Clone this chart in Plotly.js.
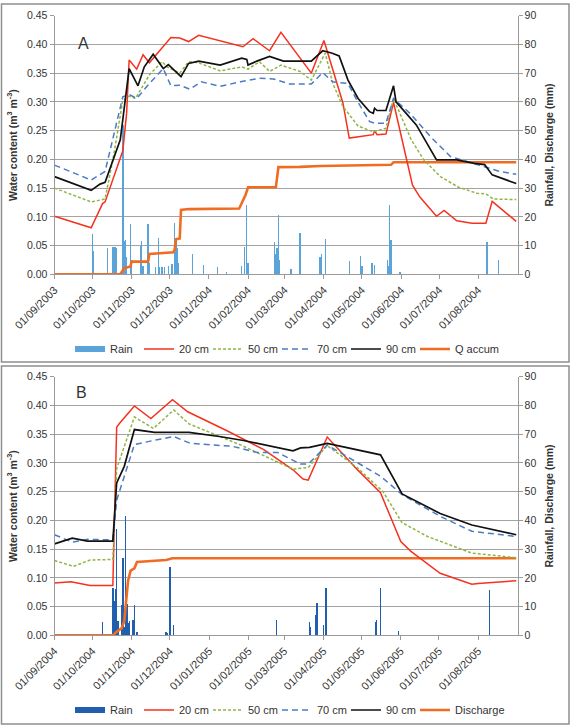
<!DOCTYPE html>
<html>
<head>
<meta charset="utf-8">
<script src="https://cdn.plot.ly/plotly-3.0.1.min.js"></script>
<style>
  html, body { margin: 0; padding: 0; background: #ffffff; }
  #chart { width: 582px; height: 727px; }
</style>
</head>
<body>
<div id="chart"></div>
<script>
// ---------- Panel A: September 2003 – August 2004 ----------
const monthsA = ['2003-09-01','2003-10-01','2003-11-01','2003-12-01','2004-01-01','2004-02-01',
                 '2004-03-01','2004-04-01','2004-05-01','2004-06-01','2004-07-01','2004-08-01'];

const a20Dates = ['2003-09-01','2003-09-30','2003-10-09','2003-10-11','2003-10-25','2003-10-28','2003-10-30',
  '2003-11-05','2003-11-10','2003-11-15','2003-12-02','2003-12-09','2003-12-16','2003-12-24','2004-01-28',
  '2004-02-05','2004-02-18','2004-02-27','2004-03-22','2004-04-01','2004-04-16','2004-04-21','2004-05-10',
  '2004-05-11','2004-05-13','2004-05-20','2004-05-26','2004-06-03','2004-06-10','2004-06-16','2004-06-29',
  '2004-07-05','2004-07-15','2004-07-27','2004-08-07','2004-08-12','2004-08-31'];
const a20Vals = [0.101,0.081,0.123,0.126,0.215,0.28,0.373,0.357,0.382,0.368,0.412,0.411,0.405,0.416,0.396,
  0.41,0.389,0.421,0.35,0.407,0.298,0.237,0.243,0.25,0.243,0.244,0.299,0.222,0.155,0.134,0.101,
  0.111,0.093,0.089,0.089,0.127,0.092];

const a50Dates = ['2003-09-01','2003-09-30','2003-10-11','2003-10-18','2003-10-25','2003-10-30','2003-11-04',
  '2003-11-15','2003-11-25','2003-11-29','2003-12-09','2003-12-16','2003-12-24','2004-01-10','2004-01-27',
  '2004-02-01','2004-02-10','2004-02-18','2004-02-27','2004-03-13','2004-03-22','2004-04-02','2004-04-08',
  '2004-04-16','2004-04-28','2004-05-10','2004-05-20','2004-05-26','2004-06-09','2004-06-19','2004-07-02',
  '2004-07-16','2004-07-31','2004-08-07','2004-08-13','2004-08-31'];
const a50Vals = [0.150,0.126,0.131,0.21,0.303,0.310,0.306,0.347,0.370,0.361,0.350,0.370,0.368,0.354,0.361,
  0.357,0.370,0.353,0.364,0.353,0.338,0.385,0.332,0.292,0.258,0.248,0.254,0.306,0.234,0.199,0.170,
  0.152,0.141,0.140,0.131,0.130];

const a70Dates = ['2003-09-01','2003-09-30','2003-10-11','2003-10-25','2003-10-30','2003-11-05','2003-11-15',
  '2003-11-26','2003-12-02','2003-12-09','2003-12-17','2003-12-26','2004-01-10','2004-01-26','2004-02-10',
  '2004-02-21','2004-03-05','2004-03-22','2004-03-31','2004-04-08','2004-04-20','2004-04-27','2004-05-07',
  '2004-05-11','2004-05-20','2004-05-26','2004-06-08','2004-06-24','2004-07-10','2004-07-28','2004-08-08',
  '2004-08-18','2004-08-31'];
const a70Vals = [0.190,0.164,0.179,0.309,0.313,0.306,0.332,0.358,0.328,0.329,0.322,0.335,0.327,0.335,0.341,
  0.340,0.331,0.331,0.351,0.335,0.332,0.303,0.266,0.263,0.263,0.306,0.280,0.240,0.205,0.193,0.187,
  0.179,0.174];

const a90Dates = ['2003-09-01','2003-09-30','2003-10-07','2003-10-11','2003-10-23','2003-10-30','2003-11-06',
  '2003-11-11','2003-11-18','2003-11-26','2003-11-30','2003-12-10','2003-12-16','2003-12-24','2004-01-10',
  '2004-01-27','2004-01-31','2004-02-01','2004-02-08','2004-02-18','2004-02-29','2004-03-22','2004-03-31',
  '2004-04-07','2004-04-13','2004-04-20','2004-04-28','2004-05-07','2004-05-10','2004-05-11','2004-05-13',
  '2004-05-20','2004-05-26','2004-05-28','2004-06-05','2004-06-13','2004-06-29','2004-07-15','2004-07-29',
  '2004-08-06','2004-08-12','2004-08-31'];
const a90Vals = [0.170,0.146,0.157,0.160,0.234,0.358,0.328,0.361,0.383,0.358,0.365,0.344,0.367,0.371,0.364,
  0.376,0.374,0.364,0.371,0.379,0.371,0.371,0.389,0.385,0.380,0.338,0.306,0.283,0.280,0.289,0.285,
  0.285,0.328,0.300,0.280,0.260,0.199,0.199,0.193,0.191,0.173,0.158];

const aQDates = ['2003-09-01','2003-10-23','2003-10-26','2003-10-31','2003-11-01','2003-11-14','2003-11-15',
  '2003-12-04','2003-12-05','2003-12-06','2003-12-09','2003-12-10','2003-12-16','2004-01-25','2004-01-30',
  '2004-02-01','2004-02-23','2004-02-25','2004-03-13','2004-03-29','2004-05-24','2004-05-26','2004-08-31'];
const aQVals = [0,0,2.1,2.7,4.4,4.4,7.1,7.7,8.7,12.2,12.5,22.4,22.7,22.9,27.6,30.3,30.3,37.3,37.4,37.7,38.1,39.0,39.0];

const aRainDates = ['2003-10-01','2003-10-02','2003-10-13','2003-10-17','2003-10-18','2003-10-19','2003-10-20',
  '2003-10-25','2003-10-26','2003-10-27','2003-10-28','2003-10-31','2003-11-01','2003-11-08','2003-11-09',
  '2003-11-10','2003-11-14','2003-11-15','2003-11-20','2003-11-22','2003-11-23','2003-11-25','2003-11-27',
  '2003-11-30','2003-12-03','2003-12-05','2003-12-06','2003-12-07','2003-12-08','2003-12-19','2003-12-28',
  '2004-01-08','2004-01-15','2004-01-27','2004-01-29','2004-01-31','2004-02-01','2004-02-22','2004-02-23',
  '2004-02-24','2004-02-25','2004-02-26','2004-03-06','2004-03-13','2004-03-29','2004-03-30','2004-04-02',
  '2004-04-21','2004-04-30','2004-05-01','2004-05-09','2004-05-11','2004-05-21','2004-05-22','2004-05-23',
  '2004-05-24','2004-05-31','2004-08-08','2004-08-17'];
const aRainVals = [14,8,9,9.5,9.5,9.5,9,52,11.5,12,6,17.5,5,10,11.5,3,17.5,4,2.5,12.5,2.5,2.7,2.5,3,3.5,
  18,12,9,4,7,3.2,2.4,0.8,3,9.6,24,4,11.4,7,9,20.6,5,2,14.3,6.1,7,12.2,4.6,6.4,3,4,3.2,5,3,24.1,12,0.8,
  11.4,5];

// ---------- Panel B: September 2004 – August 2005 ----------
const monthsB = ['2004-09-01','2004-10-01','2004-11-01','2004-12-01','2005-01-01','2005-02-01',
                 '2005-03-01','2005-04-01','2005-05-01','2005-06-01','2005-07-01','2005-08-01'];

const b20Dates = ['2004-09-01','2004-09-14','2004-09-29','2004-10-17','2004-10-20','2004-10-22','2004-11-03',
  '2004-11-16','2004-12-03','2004-12-15','2005-01-15','2005-02-13','2005-03-08','2005-03-16','2005-03-20',
  '2005-04-04','2005-04-27','2005-05-16','2005-06-01','2005-06-09','2005-07-02','2005-07-27','2005-08-01',
  '2005-08-11','2005-08-31'];
const b20Vals = [0.091,0.093,0.0865,0.0865,0.362,0.368,0.399,0.377,0.410,0.389,0.356,0.323,0.288,0.272,0.270,
  0.345,0.290,0.248,0.163,0.146,0.108,0.089,0.090,0.092,0.095];

const b50Dates = ['2004-09-01','2004-09-16','2004-09-29','2004-10-17','2004-10-20','2004-11-03','2004-11-18',
  '2004-12-04','2004-12-16','2005-01-26','2005-03-08','2005-03-20','2005-04-04','2005-04-27','2005-05-18',
  '2005-06-02','2005-06-22','2005-07-27','2005-08-31'];
const b50Vals = [0.130,0.120,0.131,0.132,0.290,0.380,0.360,0.392,0.368,0.331,0.289,0.292,0.330,0.293,0.250,
  0.196,0.172,0.143,0.135];

const b70Dates = ['2004-09-01','2004-09-15','2004-09-27','2004-10-17','2004-10-20','2004-10-27','2004-11-03',
  '2004-11-18','2004-12-04','2004-12-17','2005-01-19','2005-02-08','2005-02-24','2005-03-14','2005-03-20',
  '2005-04-04','2005-04-27','2005-05-16','2005-06-02','2005-07-02','2005-07-27','2005-08-31'];
const b70Vals = [0.175,0.162,0.167,0.166,0.235,0.285,0.332,0.339,0.346,0.334,0.329,0.318,0.318,0.298,0.298,
  0.331,0.302,0.277,0.245,0.207,0.181,0.172];

const b90Dates = ['2004-09-01','2004-09-15','2004-09-27','2004-10-17','2004-10-20','2004-10-26','2004-11-03',
  '2004-11-19','2004-12-16','2005-01-09','2005-01-28','2005-02-20','2005-03-08','2005-03-14','2005-03-21',
  '2005-04-04','2005-05-16','2005-06-02','2005-07-02','2005-07-27','2005-08-11','2005-08-31'];
const b90Vals = [0.159,0.169,0.164,0.164,0.265,0.294,0.358,0.353,0.353,0.346,0.339,0.328,0.321,0.326,0.327,
  0.334,0.314,0.246,0.212,0.192,0.185,0.175];

const bQDates = ['2004-09-01','2004-10-17','2004-10-20','2004-10-24','2004-10-26','2004-10-28','2004-10-29',
  '2004-10-31','2004-11-03','2004-11-05','2004-11-28','2004-12-03','2005-08-31'];
const bQVals = [0,0,1.2,2.5,5,14,19,22.5,23.3,25.5,26.2,26.8,26.8];

const bRainDates = ['2004-10-09','2004-10-17','2004-10-18','2004-10-19','2004-10-20','2004-10-21','2004-10-24',
  '2004-10-25','2004-10-26','2004-10-27','2004-10-28','2004-10-29','2004-10-30','2004-11-02','2004-11-03',
  '2004-11-05','2004-11-28','2004-11-29','2004-12-01','2004-12-04','2005-02-23','2005-03-21','2005-03-22',
  '2005-03-26','2005-03-27','2005-04-01','2005-04-03','2005-05-12','2005-05-13','2005-05-16','2005-05-30',
  '2005-08-10'];
const bRainVals = [4.5,16.4,12,16,37,5,10.6,27,3,41.5,11,4.3,5,5.5,10.6,1,1.3,0.8,23.9,3.6,5.3,4.8,3,7.1,
  11.1,3.6,16.3,4.8,5.3,16.3,1.5,15.8];

// ---------- styling ----------
const FONT = 'Liberation Sans, Arial, sans-serif';
const C = {
  rainA: '#5aa4d9', rainB: '#1f5fad', d20: '#f5321f', d50: '#8fb545',
  d70: '#4a7cc6', d90: '#111111', q: '#ef6c22', grid: '#a3a3a3', axis: '#9a9a9a', text: '#333333'
};
const DAY = 86400000;
const W = 582, H = 727;
const fx = p => p / W;          // pixel -> paper x
const fy = p => 1 - p / H;      // pixel -> paper y

const dmy = d => d.slice(8, 10) + '/' + d.slice(5, 7) + '/' + d.slice(0, 4);

function panelTraces(xa, yMM, yWC, legendId, rainColor, qName, rainD, rainV, series, qD, qV) {
  const t = [];
  // legend swatch for rain: a thick line entry with no drawn point
  t.push({type: 'scatter', x: [rainD[0]], y: [null], mode: 'lines', name: 'Rain', xaxis: xa, yaxis: yMM,
          legend: legendId, line: {color: rainColor, width: 6}, hoverinfo: 'skip'});
  t.push({type: 'bar', x: rainD, y: rainV, xaxis: xa, yaxis: yMM, showlegend: false,
          width: 1.1 * DAY, marker: {color: rainColor, line: {width: 0}}, name: 'Rain'});
  series.forEach(s => t.push({type: 'scatter', mode: 'lines', x: s.x, y: s.y, xaxis: xa, yaxis: yWC,
          name: s.name, legend: legendId, line: {color: s.color, width: s.width, dash: s.dash}}));
  // cumulative discharge, listed last in the legend with room for its longer label
  t.push({type: 'scatter', mode: 'lines', x: qD, y: qV, xaxis: xa, yaxis: yMM, name: qName,
          legend: legendId, legendwidth: 56, line: {color: C.q, width: 2.6}});
  return t;
}

const traces = [].concat(
  panelTraces('x', 'y', 'y2', 'legend', C.rainA, 'Q accum', aRainDates, aRainVals, [
    {name: '20 cm', x: a20Dates, y: a20Vals, color: C.d20, width: 1.5, dash: 'solid'},
    {name: '50 cm', x: a50Dates, y: a50Vals, color: C.d50, width: 1.5, dash: '3px,2px'},
    {name: '70 cm', x: a70Dates, y: a70Vals, color: C.d70, width: 1.5, dash: '6px,4px'},
    {name: '90 cm', x: a90Dates, y: a90Vals, color: C.d90, width: 1.7, dash: 'solid'}
  ], aQDates, aQVals),
  panelTraces('x2', 'y3', 'y4', 'legend2', C.rainB, 'Discharge', bRainDates, bRainVals, [
    {name: '20 cm', x: b20Dates, y: b20Vals, color: C.d20, width: 1.5, dash: 'solid'},
    {name: '50 cm', x: b50Dates, y: b50Vals, color: C.d50, width: 1.5, dash: '3px,2px'},
    {name: '70 cm', x: b70Dates, y: b70Vals, color: C.d70, width: 1.5, dash: '6px,4px'},
    {name: '90 cm', x: b90Dates, y: b90Vals, color: C.d90, width: 1.7, dash: 'solid'}
  ], bQDates, bQVals)
);

const xDom = [fx(54.5), fx(517.5)];
const domA = [fy(274.3), fy(15.7)];
const domB = [fy(635.3), fy(376.7)];

function xAxis(months, range, anchor) {
  return {
    type: 'date', domain: xDom, anchor: anchor, range: range,
    tickmode: 'array', tickvals: months, ticktext: months.map(dmy), tickangle: -45,
    tickfont: {family: FONT, size: 11, color: C.text},
    showgrid: false, zeroline: false, showline: true, linecolor: C.axis, linewidth: 1,
    ticks: 'outside', ticklen: 4, tickcolor: C.axis, fixedrange: true
  };
}
function mmAxis(dom, anchor) {
  return {
    domain: dom, anchor: anchor, side: 'right', range: [0, 90], dtick: 10, tick0: 0,
    showgrid: true, gridcolor: C.grid, gridwidth: 1, zeroline: false,
    showline: true, linecolor: C.axis, ticks: 'outside', ticklen: 4, tickcolor: C.axis,
    tickfont: {family: FONT, size: 10.5, color: C.text},
    title: {text: 'Rainfall, Discharge (mm)', standoff: 10,
            font: {family: FONT, size: 10.5, color: C.text, weight: 'bold'}},
    fixedrange: true
  };
}
function wcAxis(over, anchor) {
  return {
    overlaying: over, anchor: anchor, side: 'left', range: [0, 0.45], dtick: 0.05, tick0: 0,
    tickformat: '.2f', showgrid: false, zeroline: false,
    showline: true, linecolor: C.axis, ticks: 'outside', ticklen: 4, tickcolor: C.axis,
    tickfont: {family: FONT, size: 10.5, color: C.text},
    title: {text: 'Water content (m<sup>3</sup> m<sup>-3</sup>)', standoff: 7,
            font: {family: FONT, size: 10.5, color: C.text, weight: 'bold'}},
    fixedrange: true
  };
}
function legendBox(yPx) {
  return {orientation: 'h', x: fx(70), xanchor: 'left', y: fy(yPx), yanchor: 'middle',
          font: {family: FONT, size: 11, color: C.text}, bgcolor: 'rgba(0,0,0,0)',
          itemwidth: 30, entrywidth: 24, tracegroupgap: 0, traceorder: 'normal'};
}

const layout = {
  width: W, height: H,
  margin: {l: 0, r: 0, t: 0, b: 0, pad: 0},
  paper_bgcolor: '#ffffff', plot_bgcolor: 'rgba(0,0,0,0)',
  font: {family: FONT, color: C.text},
  showlegend: true, bargap: 0,
  xaxis: xAxis(monthsA, ['2003-09-01', '2004-09-01'], 'y'),
  yaxis: mmAxis(domA, 'x'),
  yaxis2: wcAxis('y', 'x'),
  xaxis2: xAxis(monthsB, ['2004-09-01', '2005-09-01'], 'y3'),
  yaxis3: mmAxis(domB, 'x2'),
  yaxis4: wcAxis('y3', 'x2'),
  legend: legendBox(349),
  legend2: legendBox(710),
  annotations: [
    {text: 'A', xref: 'paper', yref: 'paper', x: fx(76), y: fy(33), showarrow: false,
     font: {family: FONT, size: 16, color: C.text}},
    {text: 'B', xref: 'paper', yref: 'paper', x: fx(74), y: fy(392), showarrow: false,
     font: {family: FONT, size: 16, color: C.text}}
  ],
  shapes: [
    {type: 'rect', xref: 'paper', yref: 'paper', x0: fx(1.5), x1: fx(569), y0: fy(362), y1: fy(4),
     line: {color: '#8e8e8e', width: 1.5}, layer: 'below'},
    {type: 'rect', xref: 'paper', yref: 'paper', x0: fx(1.5), x1: fx(569), y0: fy(724), y1: fy(366),
     line: {color: '#8e8e8e', width: 1.5}, layer: 'below'}
  ]
};

Plotly.newPlot('chart', traces, layout, {staticPlot: true, displayModeBar: false});
</script>
</body>
</html>
